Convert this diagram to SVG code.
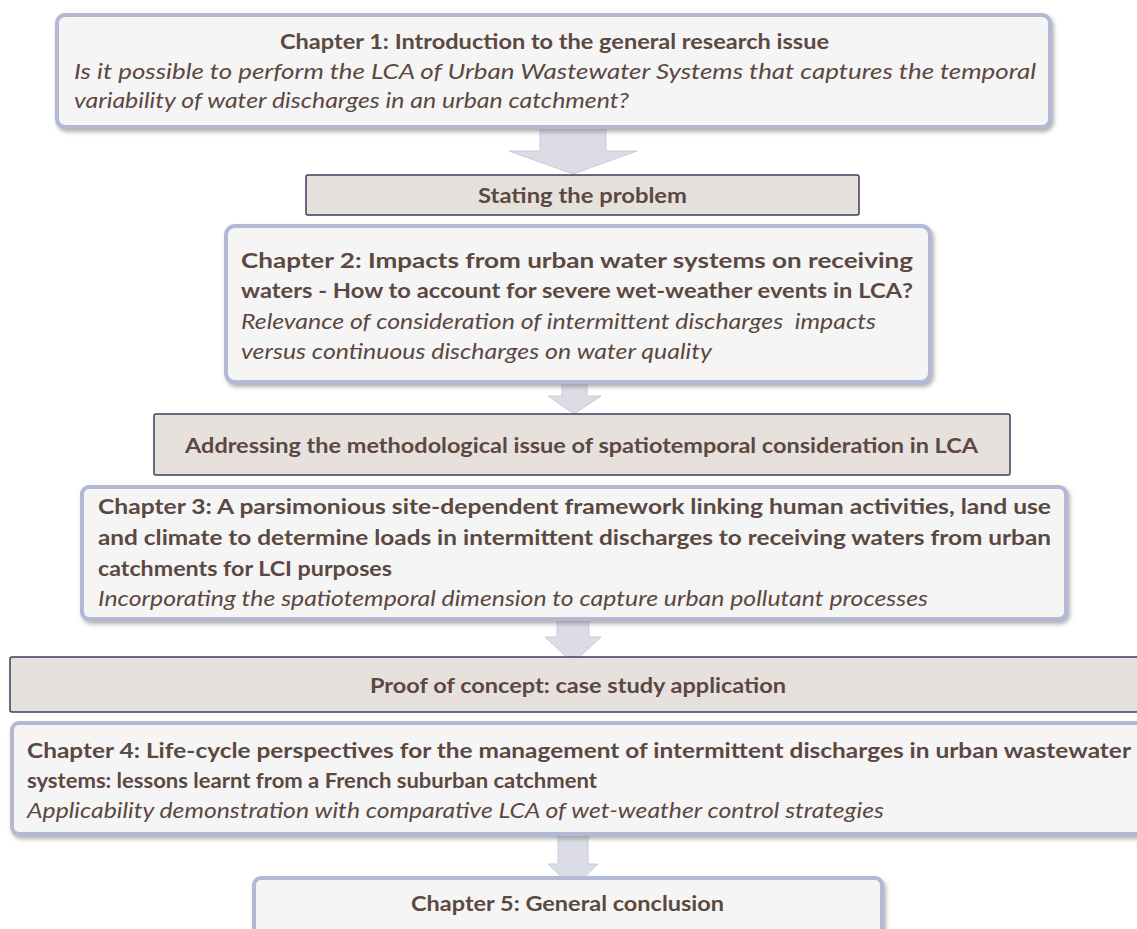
<svg xmlns="http://www.w3.org/2000/svg" width="1137" height="929" viewBox="0 0 1137 929">
<defs>
<filter id="sh" x="-5%" y="-10%" width="110%" height="130%">
<feDropShadow dx="2" dy="3" stdDeviation="2" flood-color="#7a7a7a" flood-opacity="0.6"/>
</filter>
<style>
.ch{fill:#f5f5f5;stroke:#b3b8d5;stroke-width:4;filter:url(#sh)}
.lk{fill:#e7e1de;stroke:#3d3d5c;stroke-width:1.5}
.ar{fill:#dcdce6;stroke:#c9cbdc;stroke-width:1}
text{font-family:Lato,"Open Sans","Liberation Sans",sans-serif;font-size:21px;fill:#5b4840;white-space:pre}
.b{font-weight:bold}
.i{font-style:italic}
</style>
</defs>
<rect width="1137" height="929" fill="#ffffff"/>
<g id="connectors">
<polygon class="ar" points="540,127 606,127 606,151 637,151 573,174 509,151 540,151"/>
<polygon class="ar" points="562,382 587,382 587,396 601,396 574,414 548,396 562,396"/>
<polygon class="ar" points="557,619 589,619 589,637 601,637 573,663 545,637 557,637"/>
<polygon class="ar" points="558,834 588,834 588,864 598,864 573,888 548,864 558,864"/>
</g>
<g id="ch1">
<rect class="ch" x="57" y="15" width="993" height="112" rx="8"/>
<text class="b" x="280" y="49" textLength="549" lengthAdjust="spacingAndGlyphs">Chapter 1: Introduction to the general research issue</text>
<text class="i" x="74" y="79" textLength="962" lengthAdjust="spacingAndGlyphs">Is it possible to perform the LCA of Urban Wastewater Systems that captures the temporal</text>
<text class="i" x="74" y="108" textLength="555" lengthAdjust="spacingAndGlyphs">variability of water discharges in an urban catchment?</text>
</g>
<g id="stating">
<rect class="lk" x="306" y="175" width="553" height="40" rx="2"/>
<text class="b" x="478" y="203" textLength="209" lengthAdjust="spacingAndGlyphs">Stating the problem</text>
</g>
<g id="ch2">
<rect class="ch" x="226" y="226" width="704" height="156" rx="9"/>
<text class="b" x="241" y="268" textLength="672" lengthAdjust="spacingAndGlyphs">Chapter 2: Impacts from urban water systems on receiving</text>
<text class="b" x="241" y="298" textLength="672" lengthAdjust="spacingAndGlyphs">waters - How to account for severe wet-weather events in LCA?</text>
<text class="i" x="241" y="329" textLength="635" lengthAdjust="spacingAndGlyphs" xml:space="preserve">Relevance of consideration of intermittent discharges  impacts</text>
<text class="i" x="241" y="359" textLength="471" lengthAdjust="spacingAndGlyphs">versus continuous discharges on water quality</text>
</g>
<g id="addressing">
<rect class="lk" x="154" y="414" width="856" height="61" rx="2"/>
<text class="b" x="185" y="453" textLength="793" lengthAdjust="spacingAndGlyphs">Addressing the methodological issue of spatiotemporal consideration in LCA</text>
</g>
<g id="ch3">
<rect class="ch" x="82" y="487" width="984" height="132" rx="7"/>
<text class="b" x="98" y="514" textLength="953" lengthAdjust="spacingAndGlyphs">Chapter 3: A parsimonious site-dependent framework linking human activities, land use</text>
<text class="b" x="98" y="545" textLength="953" lengthAdjust="spacingAndGlyphs">and climate to determine loads in intermittent discharges to receiving waters from urban</text>
<text class="b" x="98" y="576" textLength="294" lengthAdjust="spacingAndGlyphs">catchments for LCI purposes</text>
<text class="i" x="98" y="606" textLength="830" lengthAdjust="spacingAndGlyphs">Incorporating the spatiotemporal dimension to capture urban pollutant processes</text>
</g>
<g id="proof">
<rect class="lk" x="10" y="657" width="1140" height="55" rx="2"/>
<text class="b" x="370" y="693" textLength="416" lengthAdjust="spacingAndGlyphs">Proof of concept: case study application</text>
</g>
<g id="ch4">
<rect class="ch" x="12" y="723" width="1140" height="111" rx="7"/>
<text class="b" x="27" y="758" textLength="1104" lengthAdjust="spacingAndGlyphs">Chapter 4: Life-cycle perspectives for the management of intermittent discharges in urban wastewater</text>
<text class="b" x="27" y="788" textLength="570" lengthAdjust="spacingAndGlyphs">systems: lessons learnt from a French suburban catchment</text>
<text class="i" x="27" y="818" textLength="857" lengthAdjust="spacingAndGlyphs">Applicability demonstration with comparative LCA of wet-weather control strategies</text>
</g>
<g id="ch5">
<rect class="ch" x="254" y="878" width="628" height="70" rx="7"/>
<text class="b" x="411" y="911" textLength="313" lengthAdjust="spacingAndGlyphs">Chapter 5: General conclusion</text>
</g>
</svg>
